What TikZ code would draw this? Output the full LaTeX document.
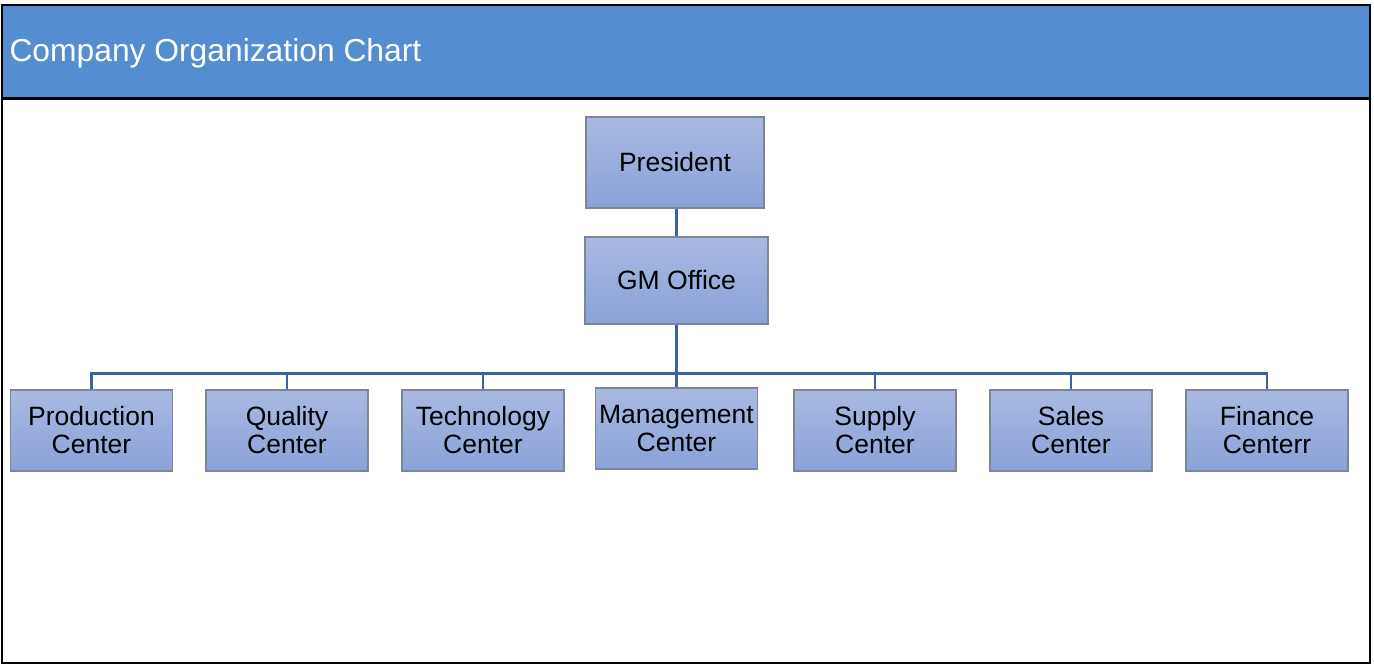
\documentclass[tikz,border=0pt]{standalone}
\usepackage{fontspec}
\setmainfont{Liberation Sans}
\usepackage{xcolor}
\usepackage{tikz}
\usetikzlibrary{positioning,calc}

\definecolor{headblue}{HTML}{558ED0}
\definecolor{boxtop}{HTML}{A9B9E2}
\definecolor{boxbot}{HTML}{8AA2D9}
\definecolor{boxline}{HTML}{7C8698}
\definecolor{linkblue}{HTML}{3D60A6}

\tikzset{
   unitbox/.style={rectangle,draw=boxline,line width=1.2pt,top color=boxtop,bottom color=boxbot,
      inner sep=0,align=center,text=black,font=\fontsize{26.5}{28}\selectfont},
   leafbox/.style={unitbox,minimum width=162pt,minimum height=81pt},
   link/.style={draw=linkblue,line width=2.8pt}
}

\begin{document}
\begin{tikzpicture}[x=1pt,y=-1pt]

   \useasboundingbox (0,0) rectangle (1374,665);

   % Frame and title band
   \fill[white] (0,0) rectangle (1374,665);
   \fill[headblue] (2,5) rectangle (1370,98);
   \draw[black,line width=1.5pt] (2,5) rectangle (1370,663);
   \draw[black,line width=2.5pt] (2,98.5) -- (1370,98.5);
   \node[anchor=west,text=white,font=\fontsize{31.8}{36}\selectfont] (title) at (6,53) {Company Organization Chart};

   % Top of the chart
   \node[unitbox,minimum width=178pt,minimum height=91pt] (pres) at (675,162.5) {President};
   \node[unitbox,minimum width=183pt,minimum height=87pt] (gm) at (676.5,280.5) {GM Office};

   % Centers
   \node[leafbox] (prod) at (91.5,430.5) {Production\\Center};
   \node[leafbox] (qual) at (287,430.5) {Quality\\Center};
   \node[leafbox] (tech) at (483,430.5) {Technology\\Center};
   \node[leafbox] (mgmt) at (676.5,428.5) {Management\\Center};
   \node[leafbox] (supp) at (875,430.5) {Supply\\Center};
   \node[leafbox] (sale) at (1071,430.5) {Sales\\Center};
   \node[leafbox] (fina) at (1267,430.5) {Finance\\Centerr};

   % Links
   \draw[link] (gm.north) -- (gm.north |- pres.south);
   \coordinate (bus) at ($(gm.south)+(0,49)$);
   \draw[link] (gm.south) -- (bus);
   \foreach \c in {prod,qual,tech,mgmt,supp,sale,fina}
      \draw[link] (bus) -| (\c.north);

\end{tikzpicture}
\end{document}
